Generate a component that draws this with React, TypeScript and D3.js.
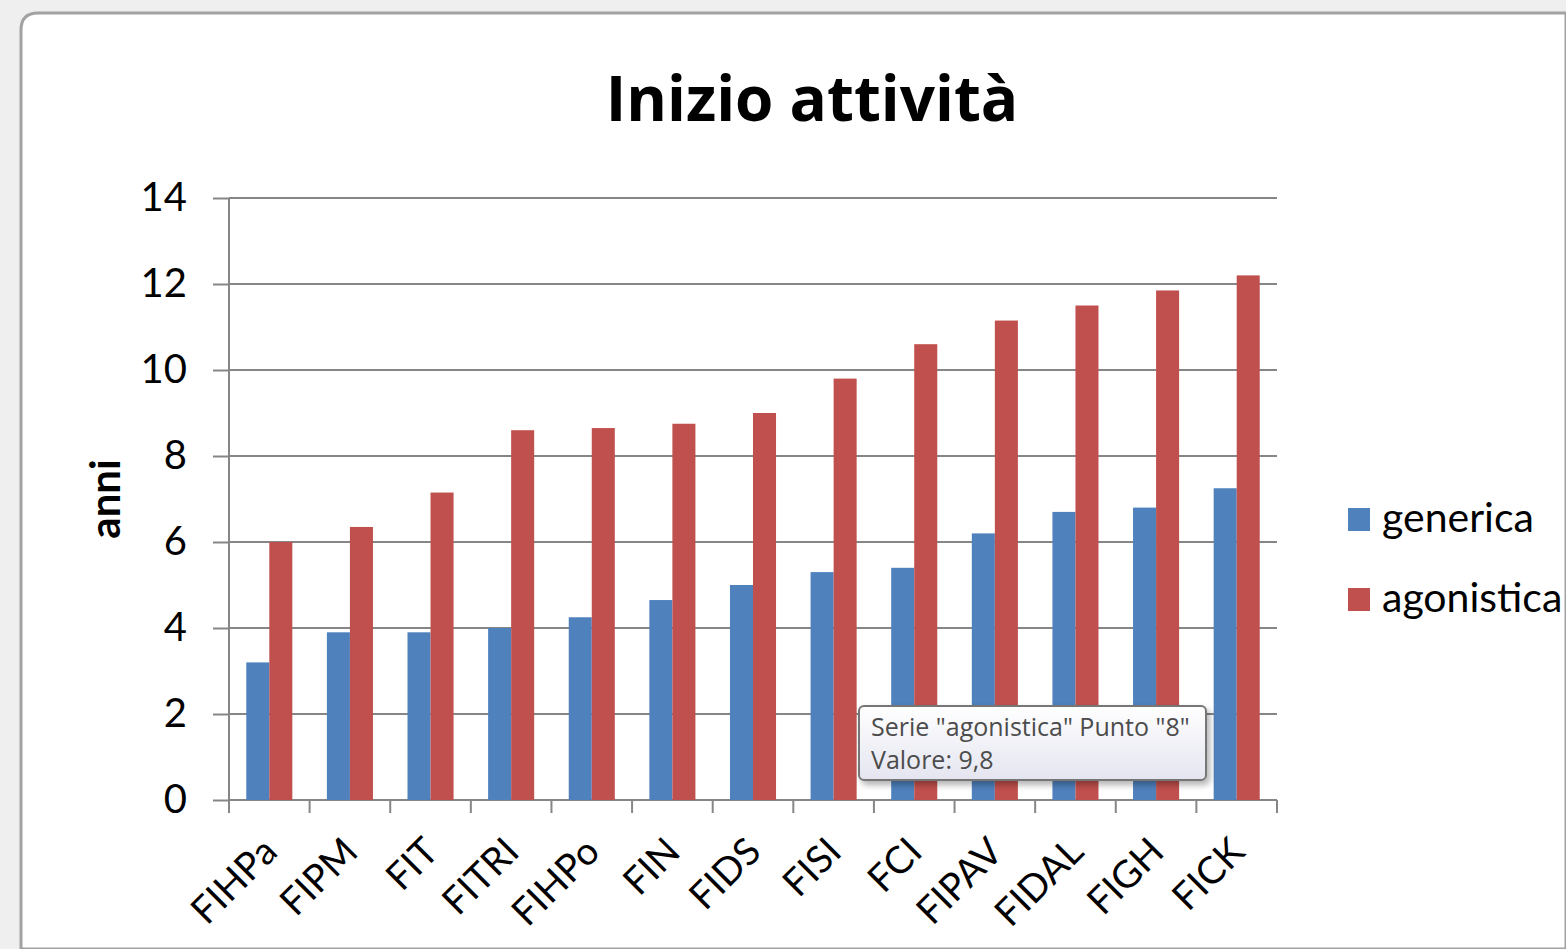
import React, { useEffect, useRef } from "react";
import { axisBottom, axisLeft, scaleBand, scaleLinear, select } from "d3";

const categories = ["FIHPa", "FIPM", "FIT", "FITRI", "FIHPo", "FIN", "FIDS", "FISI", "FCI", "FIPAV", "FIDAL", "FIGH", "FICK"];
const seriesNames = ["generica", "agonistica"];
const generica = [3.2, 3.9, 3.9, 4.0, 4.25, 4.65, 5.0, 5.3, 5.4, 6.2, 6.7, 6.8, 7.25];
const agonistica = [6.0, 6.35, 7.15, 8.6, 8.65, 8.75, 9.0, 9.8, 10.6, 11.15, 11.5, 11.85, 12.2];
const yTicks = [0, 2, 4, 6, 8, 10, 12, 14];
const colors = ["#4F81BD", "#C0504D"];

const W = 1566;
const H = 949;
const plot = { left: 229, right: 1277, top: 198, bottom: 800 };
const axisColor = "#868686";
const labelFont = "Lato, 'Open Sans', sans-serif";

function AxisLeft({ scale }) {
  const ref = useRef(null);
  useEffect(() => {
    if (ref.current) {
      const g = select(ref.current);
      g.call(axisLeft(scale).tickValues(yTicks).tickSize(16).tickPadding(26));
      g.select(".domain").remove();
      g.selectAll("line").attr("stroke", axisColor).attr("stroke-width", 2);
      g.selectAll("text")
        .style("font-size", "40px")
        .style("font-family", labelFont)
        .attr("fill", "#000");
    }
  }, [scale]);
  return <g ref={ref} transform={`translate(${plot.left},0)`} />;
}

function AxisBottom({ scale }) {
  const ref = useRef(null);
  useEffect(() => {
    if (ref.current) {
      const g = select(ref.current);
      g.call(axisBottom(scale).tickSize(0));
      g.select(".domain").remove();
      g.selectAll("text")
        .style("font-size", "38px")
        .style("font-family", labelFont)
        .attr("fill", "#000")
        .attr("text-anchor", "end")
        .attr("dy", 0)
        .attr("y", 0)
        .attr("transform", "translate(10,54) rotate(-45)");
    }
  }, [scale]);
  return <g ref={ref} transform={`translate(0,${plot.bottom})`} />;
}

export default function App() {
  const x0 = scaleBand().domain(categories).range([plot.left, plot.right]).padding(0);
  const x1 = scaleBand()
    .domain(seriesNames)
    .range([0, x0.bandwidth()])
    .paddingInner(0)
    .paddingOuter(0.75);
  const y = scaleLinear().domain([0, 14]).range([plot.bottom, plot.top]);
  const values = [generica, agonistica];
  const tickXs = categories.map((c) => x0(c)).concat([plot.right]);

  return (
    <svg width={W} height={H} style={{ position: "absolute", left: 0, top: 0 }}>
      <defs>
        <linearGradient id="tip" x1="0" y1="0" x2="0" y2="1">
          <stop offset="0" stopColor="#ffffff" />
          <stop offset="1" stopColor="#e4e5f0" />
        </linearGradient>
        <filter id="shadow" x="-10%" y="-20%" width="130%" height="160%">
          <feDropShadow dx="3" dy="4" stdDeviation="3" floodColor="#000" floodOpacity="0.3" />
        </filter>
      </defs>
      <rect x={0} y={0} width={W} height={H} fill="#efefef" />
      <path
        d={`M21,${H} L21,30 Q21,13 38,13 L${W},13 L${W},${H} Z`}
        fill="#fff"
        stroke="#a2a2a2"
        strokeWidth={3}
      />

      <text
        x={812}
        y={121}
        textAnchor="middle"
        style={{ fontFamily: "'Open Sans', sans-serif", fontWeight: 700, fontSize: 62 }}
      >
        Inizio attività
      </text>

      {yTicks.map((t) => (
        <line key={t} x1={plot.left} x2={plot.right} y1={y(t)} y2={y(t)} stroke={axisColor} strokeWidth={2} />
      ))}
      <line x1={plot.left} x2={plot.left} y1={plot.top} y2={plot.bottom} stroke={axisColor} strokeWidth={2} />
      {tickXs.map((tx, i) => (
        <line key={i} x1={tx} x2={tx} y1={plot.bottom} y2={plot.bottom + 13} stroke={axisColor} strokeWidth={2} />
      ))}

      <AxisLeft scale={y} />

      <text
        transform={`translate(120,${(plot.top + plot.bottom) / 2}) rotate(-90)`}
        textAnchor="middle"
        style={{ fontFamily: labelFont, fontWeight: 700, fontSize: 42 }}
      >
        anni
      </text>

      {categories.map((c, i) => (
        <g key={c} transform={`translate(${x0(c)},0)`}>
          {seriesNames.map((s, k) => (
            <rect
              key={s}
              x={x1(s)}
              y={y(values[k][i])}
              width={x1.bandwidth()}
              height={plot.bottom - y(values[k][i])}
              fill={colors[k]}
            />
          ))}
        </g>
      ))}

      <AxisBottom scale={x0} />

      {seriesNames.map((s, k) => (
        <g key={s} transform={`translate(1348,${508 + k * 80})`}>
          <rect x={0} y={0} width={22} height={23} fill={colors[k]} />
          <text x={34} y={24} style={{ fontFamily: labelFont, fontSize: 41 }}>
            {s}
          </text>
        </g>
      ))}

      <g transform="translate(859,706)">
        <rect x={0} y={0} width={347} height={74} rx={5} fill="url(#tip)" stroke="#767676" strokeWidth={2} filter="url(#shadow)" />
        <text x={12} y={30} fill="#4c4c4c" style={{ fontFamily: "'Open Sans', sans-serif", fontSize: 25 }}>
          Serie "agonistica" Punto "8"
        </text>
        <text x={12} y={63} fill="#4c4c4c" style={{ fontFamily: "'Open Sans', sans-serif", fontSize: 25 }}>
          Valore: 9,8
        </text>
      </g>
    </svg>
  );
}
